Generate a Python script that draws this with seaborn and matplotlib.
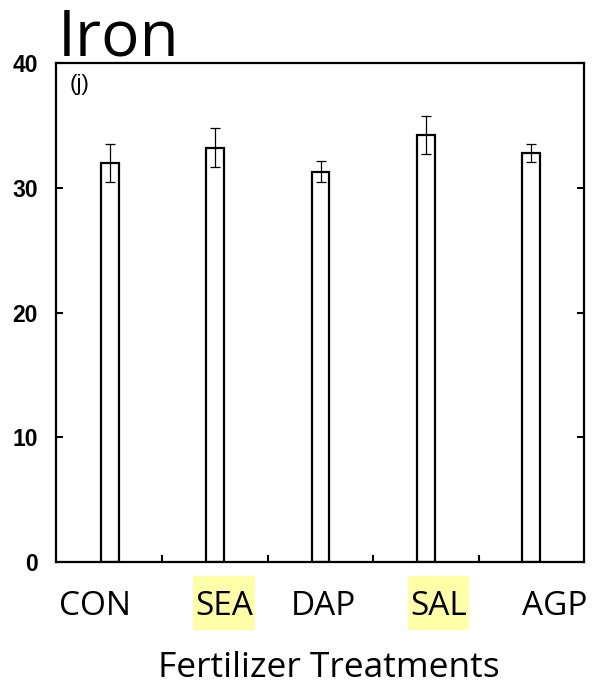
import matplotlib
matplotlib.use("Agg")
import matplotlib.pyplot as plt
import matplotlib.transforms as mtransforms
from matplotlib.patches import Rectangle
import seaborn as sns
import pandas as pd

# ---- data ----
treatments = ["CON", "SEA", "DAP", "SAL", "AGP"]
iron_values = [32.0, 33.2, 31.3, 34.2, 32.8]
iron_errors = [1.5, 1.55, 0.85, 1.53, 0.72]
highlighted = ["SEA", "SAL"]
y_ticks = [0, 10, 20, 30, 40]

df = pd.DataFrame({"treatment": treatments, "iron": iron_values})

sns.set_style("white")
plt.rcParams["font.family"] = ["Open Sans", "DejaVu Sans"]
plt.rcParams["text.color"] = "black"
plt.rcParams["axes.labelcolor"] = "black"
plt.rcParams["xtick.color"] = "black"
plt.rcParams["ytick.color"] = "black"

fig = plt.figure(figsize=(5.92, 6.86), dpi=100)
ax = fig.add_axes([56 / 592, 1 - 562 / 686, 528 / 592, 499 / 686])

sns.barplot(data=df, x="treatment", y="iron", color="white", edgecolor="black",
            linewidth=1.6, width=0.17, errorbar=None, ax=ax, saturation=1)
ax.errorbar(x=list(range(len(treatments))), y=iron_values, yerr=iron_errors,
            fmt="none", ecolor="black", elinewidth=0.9, capsize=3.6, capthick=0.9)

ax.set_xlim(-0.51, 4.5)
ax.set_ylim(0, 40)
ax.set_yticks(y_ticks)
ax.set_yticklabels([str(v) for v in y_ticks], fontfamily="Liberation Sans",
                   fontweight="bold", fontsize=16.5, color="black")

for s in ax.spines.values():
    s.set_visible(True)
    s.set_color("black")
    s.set_linewidth(1.6)

ax.tick_params(axis="y", which="major", direction="in", length=5, width=1.5,
               left=True, right=True, labelright=False, pad=13, colors="black")
ax.set_xticks(range(len(treatments)))
ax.set_xticks([0.5, 1.5, 2.5, 3.5], minor=True)
ax.tick_params(axis="x", which="major", length=0, pad=20)
ax.tick_params(axis="x", which="minor", direction="in", length=5, width=1.5,
               bottom=True)
ax.set_xticklabels(treatments, fontsize=24, color="black",
                   fontfamily=["Open Sans", "DejaVu Sans"])

offsets_px = [-15, 9, 3, 13, 23]
for lab, dx in zip(ax.get_xticklabels(), offsets_px):
    lab.set_transform(lab.get_transform() +
                      mtransforms.ScaledTranslation(dx / 100, 0, fig.dpi_scale_trans))

ax.set_xlabel("Fertilizer Treatments", fontsize=25.5, labelpad=20, x=0.517,
              color="black")
ax.set_ylabel("")

ax.text(0.026, 0.978, "(j)", transform=ax.transAxes, fontsize=16,
        fontfamily="Liberation Sans", va="top", ha="left", color="black")

fig.text(58 / 592, 1 - 55 / 686, "Iron", fontsize=46, ha="left",
         va="baseline", color="black")

# yellow highlight boxes behind selected labels
fig.canvas.draw()
renderer = fig.canvas.get_renderer()
for lab in ax.get_xticklabels():
    if lab.get_text() in highlighted:
        bb = lab.get_window_extent(renderer)
        rect = Rectangle((bb.x0 - 2, bb.y0 - 7), bb.width + 4, bb.height + 21,
                         transform=None, facecolor="#FFFFA8", edgecolor="none",
                         zorder=-5)
        fig.patches.append(rect)

fig.savefig("out.png", dpi=100)
